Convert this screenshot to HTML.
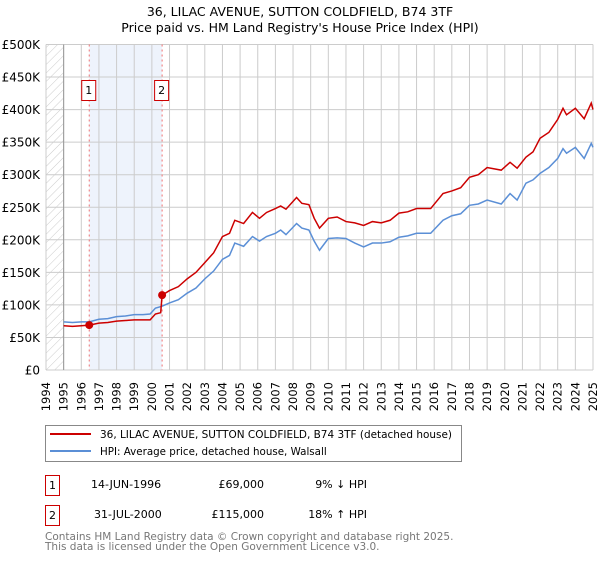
<!DOCTYPE html>
<html><head><meta charset="utf-8"><style>
body{margin:0;background:#fff;width:600px;height:560px;overflow:hidden;font-family:"DejaVu Sans","Liberation Sans",sans-serif}
svg text{font-family:"DejaVu Sans","Liberation Sans",sans-serif}
</style></head><body>
<svg id="chart" width="600" height="560" xmlns="http://www.w3.org/2000/svg">
<text x="300" y="16" text-anchor="middle" font-size="12.5">36, LILAC AVENUE, SUTTON COLDFIELD, B74 3TF</text>
<text x="300" y="32" text-anchor="middle" font-size="12.5">Price paid vs. HM Land Registry's House Price Index (HPI)</text>
<defs><pattern id="hatch" width="6" height="6" patternUnits="userSpaceOnUse" patternTransform="rotate(45)"><line x1="0" y1="0" x2="0" y2="6" stroke="#ccc" stroke-width="1"/></pattern></defs>
<g id="grid"></g>
<g id="marks"></g>
<g id="axes"></g>
<rect x="45.5" y="425.5" width="416" height="36" fill="#fff" stroke="#888"/>
<line x1="50" y1="434" x2="91" y2="434" stroke="#cc0000" stroke-width="2"/>
<text x="100" y="438" font-size="10.3" textLength="352" lengthAdjust="spacingAndGlyphs">36, LILAC AVENUE, SUTTON COLDFIELD, B74 3TF (detached house)</text>
<line x1="50" y1="451" x2="91" y2="451" stroke="#5b8fd6" stroke-width="2"/>
<text x="100" y="455" font-size="10.3">HPI: Average price, detached house, Walsall</text>
<g font-size="11">
<rect x="45.5" y="475.5" width="14" height="20" fill="#fff" stroke="#cc0000"/>
<text x="52.5" y="489" text-anchor="middle">1</text>
<text x="91" y="488">14-JUN-1996</text>
<text x="264" y="488" text-anchor="end">£69,000</text>
<text x="367" y="488" text-anchor="end">9% ↓ HPI</text>
</g>
<g font-size="11">
<rect x="45.5" y="505.5" width="14" height="20" fill="#fff" stroke="#cc0000"/>
<text x="52.5" y="519" text-anchor="middle">2</text>
<text x="94" y="518">31-JUL-2000</text>
<text x="264" y="518" text-anchor="end">£115,000</text>
<text x="367" y="518" text-anchor="end">18% ↑ HPI</text>
</g>
<text x="45" y="540" font-size="10.5" fill="#777">Contains HM Land Registry data © Crown copyright and database right 2025.</text>
<text x="45" y="550" font-size="10.5" fill="#777">This data is licensed under the Open Government Licence v3.0.</text>
</svg>
<script>
const hpiYears=[1995,1995.5,1996,1996.45,1997,1997.5,1998,1998.5,1999,1999.5,1999.9,2000.2,2000.58,2001,2001.5,2002,2002.5,2003,2003.5,2004,2004.4,2004.7,2005.2,2005.7,2006.1,2006.5,2007,2007.3,2007.6,2008.2,2008.5,2008.9,2009.2,2009.5,2010,2010.5,2011,2011.5,2012,2012.5,2013,2013.5,2014,2014.5,2015,2015.8,2016.5,2017,2017.5,2018,2018.5,2019,2019.8,2020.3,2020.7,2021.2,2021.6,2022,2022.5,2023,2023.3,2023.5,2024,2024.5,2024.9,2025];
const hpiValues=[74,73,74,74,78,79,82,83,85,85,86,95,98,103,108,118,126,140,152,170,176,195,190,205,198,205,210,215,208,225,218,215,198,184,202,203,202,195,189,195,195,197,204,206,210,210,230,237,240,253,255,261,255,271,261,287,292,302,311,325,340,333,342,325,348,342];
const redYears=[1995,1995.5,1996,1996.45,1997,1997.5,1998,1998.5,1999,1999.5,1999.9,2000.2,2000.5,2000.58,2001,2001.5,2002,2002.5,2003,2003.5,2004,2004.4,2004.7,2005.2,2005.7,2006.1,2006.5,2007,2007.3,2007.6,2008.2,2008.5,2008.9,2009.2,2009.5,2010,2010.5,2011,2011.5,2012,2012.5,2013,2013.5,2014,2014.5,2015,2015.8,2016.5,2017,2017.5,2018,2018.5,2019,2019.8,2020.3,2020.7,2021.2,2021.6,2022,2022.5,2023,2023.3,2023.5,2024,2024.5,2024.9,2025];
const redValues=[68,67,68,69,72,73,75,76,77,77,77,86,88,115,122,128,140,150,165,180,205,210,230,225,242,233,242,248,252,247,265,256,254,233,218,233,235,228,226,222,228,226,230,241,243,248,248,271,275,280,296,300,311,307,319,310,327,335,356,365,385,402,392,402,386,410,400];
const saleYears=[1996.45,2000.58];
const saleValues=[69,115];
const saleLabels=["1","2"];
const yTicks=[0,50,100,150,200,250,300,350,400,450,500];
const yTickLabels=["£0","£50K","£100K","£150K","£200K","£250K","£300K","£350K","£400K","£450K","£500K"];
const xTickYears=[1994,1995,1996,1997,1998,1999,2000,2001,2002,2003,2004,2005,2006,2007,2008,2009,2010,2011,2012,2013,2014,2015,2016,2017,2018,2019,2020,2021,2022,2023,2024,2025];

const NS="http://www.w3.org/2000/svg";
const X0=46,X1=593,Y0=370,Y1=44.5;
const xs=y=>X0+(y-1994)/(2025-1994)*(X1-X0);
const ys=v=>Y0-v/500*(Y0-Y1);
function mk(tag,attrs,parent){const e=document.createElementNS(NS,tag);for(const k in attrs)e.setAttribute(k,attrs[k]);parent.appendChild(e);return e;}
const grid=document.getElementById('grid'),marks=document.getElementById('marks'),axes=document.getElementById('axes');
const h=mk('rect',{x:xs(1994),y:Y1,width:xs(1995)-xs(1994),height:Y0-Y1,fill:'url(#hatch)'},grid);


const sh=mk('rect',{x:xs(saleYears[0]),y:Y1,width:xs(saleYears[1])-xs(saleYears[0]),height:Y0-Y1,fill:'#eef3fc'},grid);


xTickYears.forEach(y=>{
  const l=mk('line',{x1:xs(y),x2:xs(y),y1:Y1,y2:Y0,stroke:'#ccc','stroke-width':1},grid);
  
  
  const t=mk('text',{x:0,y:0,'font-size':11.5,'text-anchor':'end',transform:`translate(${xs(y)+4},${Y0+12}) rotate(-90)`},axes);
  t.textContent=y;
  
  
});
yTicks.forEach((v,i)=>{
  const l=mk('line',{x1:X0,x2:X1,y1:ys(v),y2:ys(v),stroke:'#ccc','stroke-width':1},grid);
  
  
  const t=mk('text',{x:40,y:ys(v)+4.5,'font-size':12,'text-anchor':'end'},axes);
  t.textContent=yTickLabels[i];
  
  
});
const ax=mk('line',{x1:xs(1995),x2:xs(1995),y1:Y1,y2:Y0,stroke:'#999'},grid);


saleYears.forEach((y,i)=>{
  const l=mk('line',{x1:xs(y),x2:xs(y),y1:Y1,y2:Y0,stroke:'#f07070','stroke-dasharray':'2,3'},marks);
  
  
  const r=mk('rect',{x:xs(y)-7.5,y:80.5,width:14,height:20,fill:'#fff',stroke:'#cc0000'},marks);
  
  
  const t=mk('text',{x:xs(y)-0.5,y:94,'font-size':11,'text-anchor':'middle'},marks);
  t.textContent=saleLabels[i];
  
  
});
const hp=mk('polyline',{points:hpiYears.map((y,i)=>xs(y)+','+ys(hpiValues[i])).join(' '),fill:'none',stroke:'#5b8fd6','stroke-width':1.5},marks);


const rp=mk('polyline',{points:redYears.map((y,i)=>xs(y)+','+ys(redValues[i])).join(' '),fill:'none',stroke:'#cc0000','stroke-width':1.5},marks);


saleYears.forEach((y,i)=>{
  const c=mk('circle',{cx:xs(y),cy:ys(saleValues[i]),r:4,fill:'#cc0000'},marks);
  
  
});
</script>
</body></html>
